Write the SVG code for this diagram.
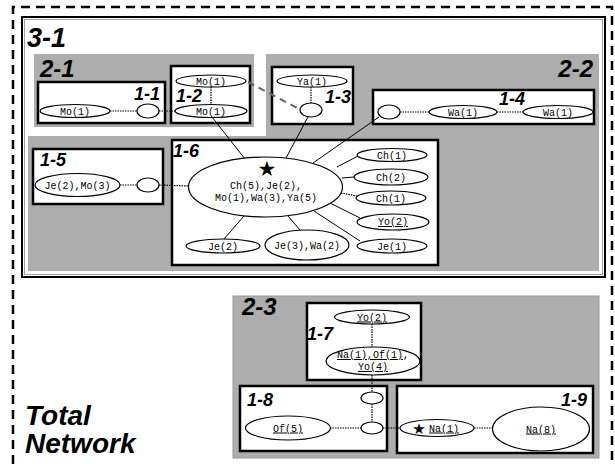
<svg xmlns="http://www.w3.org/2000/svg" width="615" height="464" viewBox="0 0 615 464">
<style>
.bg{fill:#fff}
.gray{fill:#adadad}
.box{fill:#fff;stroke:#000;stroke-width:2.5}
.nd{fill:#fff;stroke:#000;stroke-width:1.2}
.t{font-family:"Liberation Mono","Courier New",monospace;font-size:10px;fill:#000;text-anchor:middle}
.u{text-decoration:underline}
.lbl{font-family:"Liberation Sans",Arial,sans-serif;font-weight:bold;font-style:italic;font-size:18px;fill:#000}
.big{font-size:24px}
.dot{stroke:#000;stroke-width:1.2;stroke-dasharray:1.5 1;fill:none}
.sol{stroke:#000;stroke-width:1;fill:none}
.star{font-family:"DejaVu Sans",sans-serif;fill:#000;text-anchor:middle}
</style>
<rect class="bg" x="0" y="0" width="615" height="464"/>
<path d="M13,464 V7 H612 V464" fill="none" stroke="#000" stroke-width="2.5" stroke-dasharray="9 6"/>
<g id="total">
<text class="lbl" x="25" y="425" style="font-size:28px">Total</text>
<text class="lbl" x="25" y="453" style="font-size:28px">Network</text>
</g>
<g id="g3-1">
<rect x="22" y="17" width="583" height="260" fill="#fff" stroke="#000" stroke-width="2"/>
<rect x="24.5" y="19.5" width="578" height="255" fill="none" stroke="#888" stroke-width="0.8"/>
<text class="lbl" x="27" y="47" style="font-size:27px">3-1</text>
</g>
<g id="g2-1">
<rect class="gray" x="34" y="54" width="220" height="73"/>
<text class="lbl big" x="40" y="77">2-1</text>
</g>
<g id="g2-2">
<polygon class="gray" points="266,54 599,54 599,271 28,271 28,136 266,136"/>
<text class="lbl big" x="593" y="77" text-anchor="end">2-2</text>
</g>
<g id="g2-3">
<rect class="gray" x="233" y="296" width="366" height="162" stroke="#999" stroke-width="1"/>
<text class="lbl big" x="242" y="315">2-3</text>
</g>
<g id="n1-1">
<rect class="box" x="38" y="82" width="127" height="41"/>
<text class="lbl" x="160" y="100" text-anchor="end">1-1</text>
</g>
<g id="n1-2">
<rect class="box" x="171" y="66" width="79" height="57"/>
<text class="lbl" x="176" y="102">1-2</text>
</g>
<g id="n1-3">
<rect class="box" x="272" y="67" width="81" height="57"/>
<text class="lbl" x="325" y="103">1-3</text>
</g>
<g id="n1-4">
<rect class="box" x="373" y="90" width="221" height="34"/>
<text class="lbl" x="499" y="105">1-4</text>
</g>
<g id="n1-5">
<rect class="box" x="33" y="149" width="130" height="55"/>
<text class="lbl" x="40" y="166">1-5</text>
</g>
<g id="n1-6">
<rect class="box" x="172" y="140" width="266" height="125"/>
<text class="lbl" x="173" y="157">1-6</text>
</g>
<g id="n1-7">
<rect class="box" x="307" y="303" width="114" height="77"/>
</g>
<g id="n1-8">
<rect class="box" x="240" y="386" width="147" height="65"/>
<text class="lbl" x="247" y="406">1-8</text>
</g>
<g id="n1-9">
<rect class="box" x="397" y="386" width="196" height="67"/>
<text class="lbl" x="587" y="406" text-anchor="end">1-9</text>
</g>
<g id="connectors">
<line class="dot" x1="110" y1="111" x2="137" y2="111"/>
<line class="dot" x1="159" y1="111" x2="175" y2="111"/>
<line class="dot" x1="211" y1="87" x2="211" y2="104"/>
<line class="dot" x1="311" y1="87" x2="311" y2="103"/>
<line class="dot" x1="400" y1="112" x2="429" y2="112"/>
<line class="dot" x1="497" y1="112" x2="523" y2="112"/>
<line class="dot" x1="120" y1="185" x2="137" y2="185"/>
<line class="dot" x1="159" y1="185" x2="189" y2="186"/>
<line x1="248" y1="82" x2="301" y2="110" stroke="#666" stroke-width="2" stroke-dasharray="7 5"/>
<line class="sol" x1="212" y1="117" x2="245" y2="159"/>
<line class="sol" x1="308" y1="117" x2="286" y2="158"/>
<line class="sol" x1="379" y1="117" x2="313" y2="163"/>
<line class="sol" x1="337" y1="167" x2="358" y2="156"/>
<line class="sol" x1="342" y1="178" x2="354" y2="177"/>
<line class="dot" x1="341" y1="193" x2="357" y2="196"/>
<line class="sol" x1="330" y1="203" x2="360" y2="218"/>
<line class="sol" x1="314" y1="211" x2="360" y2="241"/>
<line class="sol" x1="244" y1="216" x2="224" y2="239"/>
<line class="sol" x1="288" y1="216" x2="300" y2="230"/>
<line class="dot" x1="372" y1="324" x2="372" y2="347"/>
<line class="dot" x1="372" y1="375" x2="372" y2="392"/>
<line class="dot" x1="372" y1="404" x2="372" y2="422"/>
<line class="dot" x1="330" y1="428" x2="361" y2="428"/>
<line class="dot" x1="383" y1="428" x2="400" y2="428"/>
<line class="dot" x1="474" y1="428" x2="492" y2="428"/>
</g>
<g id="e-mo1a"><ellipse class="nd" cx="75" cy="111" rx="35" ry="6.5"/><text class="t" x="75" y="114.5">Mo(1)</text></g>
<g id="e-x11"><ellipse class="nd" cx="148" cy="111" rx="11" ry="7"/></g>
<g id="e-mo1b"><ellipse class="nd" cx="211" cy="81" rx="35" ry="6"/><text class="t" x="211" y="84.5">Mo(1)</text></g>
<g id="e-mo1c"><ellipse class="nd" cx="211" cy="111" rx="36" ry="6.5"/><text class="t" x="211" y="114.5">Mo(1)</text></g>
<g id="e-ya1"><ellipse class="nd" cx="312" cy="81" rx="35" ry="6"/><text class="t" x="312" y="84.5">Ya(1)</text></g>
<g id="e-x13"><ellipse class="nd" cx="311" cy="110" rx="11" ry="7"/></g>
<g id="e-x14"><ellipse class="nd" cx="389" cy="112" rx="11" ry="7"/></g>
<g id="e-wa1a"><ellipse class="nd" cx="463" cy="112" rx="34" ry="6.5"/><text class="t" x="463" y="115.5">Wa(1)</text></g>
<g id="e-wa1b"><ellipse class="nd" cx="558" cy="112" rx="35" ry="6.5"/><text class="t" x="558" y="115.5">Wa(1)</text></g>
<g id="e-jemo"><ellipse class="nd" cx="77.5" cy="185" rx="42.5" ry="11.5"/><text class="t" x="77.5" y="188.5">Je(2),Mo(3)</text></g>
<g id="e-x15"><ellipse class="nd" cx="148" cy="185" rx="11" ry="7"/></g>
<g id="e-center">
<ellipse class="nd" cx="265.5" cy="187" rx="77" ry="30"/>
<text class="star" x="267" y="176" font-size="21">★</text>
<text class="t" x="266" y="189">Ch(5),Je(2),</text>
<text class="t" x="266" y="201">Mo(1),Wa(3),Ya(5)</text>
</g>
<g id="e-ch1a"><ellipse class="nd" cx="392" cy="155" rx="35" ry="6.5"/><text class="t" x="392" y="158.5">Ch(1)</text></g>
<g id="e-ch2"><ellipse class="nd" cx="391" cy="177" rx="37" ry="8"/><text class="t" x="391" y="180.5">Ch(2)</text></g>
<g id="e-ch1b"><ellipse class="nd" cx="391" cy="198" rx="35" ry="7"/><text class="t" x="391" y="201.5">Ch(1)</text></g>
<g id="e-yo2a"><ellipse class="nd" cx="393" cy="222" rx="36" ry="8"/><text class="t u" x="393" y="225">Yo(2)</text></g>
<g id="e-je1"><ellipse class="nd" cx="392" cy="246" rx="35" ry="7"/><text class="t" x="392" y="249.5">Je(1)</text></g>
<g id="e-je2"><ellipse class="nd" cx="223" cy="246" rx="37" ry="7"/><text class="t" x="223" y="249.5">Je(2)</text></g>
<g id="e-jewa"><ellipse class="nd" cx="307" cy="245" rx="42" ry="15"/><text class="t" x="307" y="248.5">Je(3),Wa(2)</text></g>
<g id="e-yo2b"><ellipse class="nd" cx="372" cy="317" rx="37.5" ry="7"/><text class="t u" x="372" y="320.5">Yo(2)</text></g>
<g id="e-naofyo"><ellipse class="nd" cx="373" cy="361" rx="47" ry="14"/><text class="t" x="373" y="358"><tspan class="u">Na(1),Of(1)</tspan>,</text><text class="t u" x="373" y="370">Yo(4)</text></g>
<text class="lbl" x="307" y="340">1-7</text>
<g id="e-x18a"><ellipse class="nd" cx="372" cy="398" rx="11" ry="6"/></g>
<g id="e-x18b"><ellipse class="nd" cx="372" cy="428" rx="11" ry="6"/></g>
<g id="e-of5"><ellipse class="nd" cx="288" cy="428" rx="42.5" ry="12"/><text class="t u" x="288" y="431.5">Of(5)</text></g>
<g id="e-na1"><ellipse class="nd" cx="437" cy="428" rx="37" ry="8.5"/><text class="star" x="419" y="433.5" font-size="15">★</text><text class="t u" x="444" y="431.5">Na(1)</text></g>
<g id="e-na8"><ellipse class="nd" cx="541" cy="429" rx="48.5" ry="22"/><text class="t u" x="541" y="432.5">Na(8)</text></g>
</svg>
